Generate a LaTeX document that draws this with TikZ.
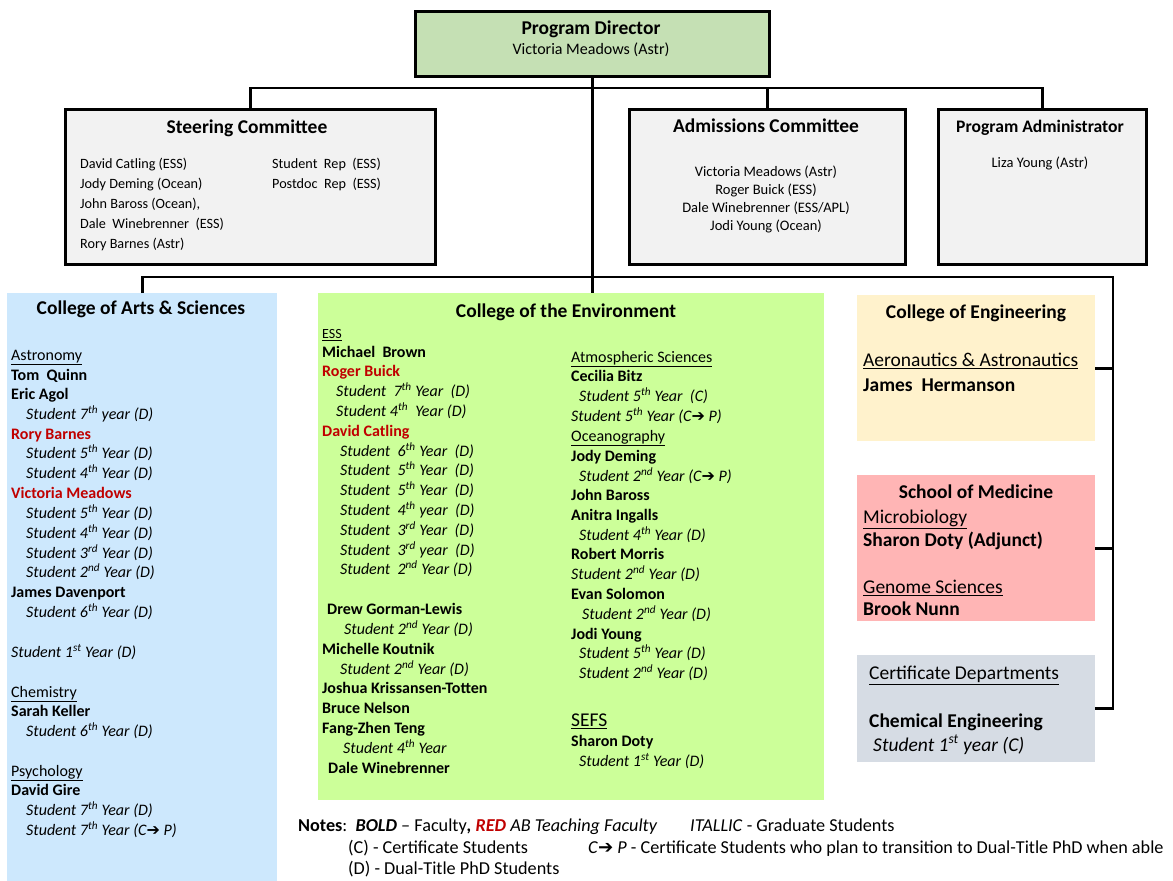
\documentclass[tikz,border=0pt]{standalone}
\usepackage{fontspec}
\setmainfont{Carlito}
\newfontfamily\symf{DejaVu Sans}
\definecolor{pdgreen}{HTML}{C5E0B4}
\definecolor{boxgray}{HTML}{F2F2F2}
\definecolor{casblue}{HTML}{CDE8FD}
\definecolor{coegreen}{HTML}{CCFF99}
\definecolor{enggold}{HTML}{FFF2CC}
\definecolor{medpink}{HTML}{FFB5B5}
\definecolor{certgray}{HTML}{D6DCE4}
\definecolor{tred}{HTML}{C00000}
\newcommand\fsz[1]{\fontsize{#1}{#1}\selectfont}
\newcommand\arw{{\normalfont\symf ➔}}
\newcommand\sps[1]{\textsuperscript{#1}}
\newcounter{tlc}
\newcommand\tline[4][]{\stepcounter{tlc}\node[txt,#1] (t\arabic{tlc}) at (#2,{#3+5.5}) {#4};}
\tikzset{
  box/.style={draw=black, line width=3pt, fill=boxgray, inner sep=0pt, anchor=north west},
  cbox/.style={draw=none, inner sep=0pt, anchor=north west},
  txt/.style={inner sep=0pt, anchor=base west, font=\fsz{16}},
  ctr/.style={inner sep=0pt, anchor=base},
  wire/.style={line width=2.6pt},
  fac/.style={font=\fsz{16}\bfseries},
  redf/.style={font=\fsz{16}\bfseries, text=tred},
  stu/.style={font=\fsz{16}\itshape},
  head/.style={font=\fsz{19.5}\bfseries},
  big/.style={font=\fsz{19.5}},
  note/.style={font=\fsz{18.2}},
}
\begin{document}
\begin{tikzpicture}[x=1pt,y=-1pt]
\useasboundingbox (0,0) rectangle (1173,881);
% boxes
\node[box, fill=pdgreen, minimum width=354pt, minimum height=65pt] (pd) at (414,10) {};
\node[box, minimum width=370pt, minimum height=155pt] (sc) at (64,108) {};
\node[box, minimum width=276pt, minimum height=155pt] (ac) at (628,108) {};
\node[box, minimum width=208pt, minimum height=155pt] (pa) at (937,108) {};
\node[cbox, fill=casblue, minimum width=270pt, minimum height=590pt] (cas) at (7,293) {};
\node[cbox, fill=coegreen, minimum width=506pt, minimum height=507pt] (coe) at (318,293) {};
\node[cbox, fill=enggold, minimum width=238pt, minimum height=146pt] (eng) at (857,295) {};
\node[cbox, fill=medpink, minimum width=238pt, minimum height=146pt] (med) at (857,475) {};
\node[cbox, fill=certgray, minimum width=238pt, minimum height=107pt] (cert) at (857,655) {};
% connectors
\coordinate (busU) at (0,88);
\coordinate (busL) at (0,277);
\coordinate (rx) at (1113,0);
\draw[wire] (pd.south) -- (pd.south |- coe.north);
\draw[wire] (sc.north) -- (sc.north |- busU) -- (pa.north |- busU) -- (pa.north);
\draw[wire] (ac.north) -- (ac.north |- busU);
\draw[wire] (cas.north) -- (cas.north |- busL) -- (rx |- busL) -- (rx |- cert.east) -- (cert.east);
\draw[wire] (eng.east) -- (eng.east -| rx);
\draw[wire] (med.east) -- (med.east -| rx);
% top texts
\node[ctr, head] (pdt) at (591,34) {Program Director};
\node[ctr, font=\fsz{16}] (pdn) at (591,54) {Victoria Meadows (Astr)};
\node[ctr, head] (sct) at (247,133.5) {Steering Committee};
\tline[font=\fsz{14.2}]{80}{163}{David Catling (ESS)}
\tline[font=\fsz{14.2}]{80}{183}{Jody Deming (Ocean)}
\tline[font=\fsz{14.2}]{80}{203}{John Baross (Ocean),}
\tline[font=\fsz{14.2}]{80}{223}{Dale\ \ Winebrenner\ \ (ESS)}
\tline[font=\fsz{14.2}]{80}{243}{Rory Barnes (Astr)}
\tline[font=\fsz{14.2}]{272}{163}{Student\ \ Rep\ \ (ESS)}
\tline[font=\fsz{14.2}]{272}{183}{Postdoc\ \ Rep\ \ (ESS)}
\node[ctr, head] (act) at (766,132.5) {Admissions Committee};
\node[ctr, font=\fsz{14.5}] (ac1) at (766,176) {Victoria Meadows (Astr)};
\node[ctr, font=\fsz{14.5}] (ac2) at (766,194) {Roger Buick (ESS)};
\node[ctr, font=\fsz{14.5}] (ac3) at (766,212) {Dale Winebrenner (ESS/APL)};
\node[ctr, font=\fsz{14.5}] (ac4) at (766,230) {Jodi Young (Ocean)};
\node[ctr, font=\fsz{17.6}\bfseries] (pat) at (1040,132) {Program Administrator};
\node[ctr, font=\fsz{14.5}] (pan) at (1040,167) {Liza Young (Astr)};
% College of Arts & Sciences
\node[ctr, head] (cast) at (141,314.5) {College of Arts \& Sciences};
\tline{11}{355}{\underline{Astronomy}}
\tline[fac]{11}{375}{Tom\ \ Quinn}
\tline[fac]{11}{394}{Eric Agol}
\tline[stu]{26}{414}{Student 7\sps{th} year (D)}
\tline[redf]{11}{434}{Rory Barnes}
\tline[stu]{26}{453}{Student 5\sps{th} Year (D)}
\tline[stu]{26}{473}{Student 4\sps{th} Year (D)}
\tline[redf]{11}{493}{Victoria Meadows}
\tline[stu]{26}{513}{Student 5\sps{th} Year (D)}
\tline[stu]{26}{533}{Student 4\sps{th} Year (D)}
\tline[stu]{26}{553}{Student 3\sps{rd} Year (D)}
\tline[stu]{26}{572}{Student 2\sps{nd} Year (D)}
\tline[fac]{11}{592}{James Davenport}
\tline[stu]{26}{612}{Student 6\sps{th} Year (D)}
\tline[stu]{11}{652}{Student 1\sps{st} Year (D)}
\tline{11}{692}{\underline{Chemistry}}
\tline[fac]{11}{711}{Sarah Keller}
\tline[stu]{26}{731}{Student 6\sps{th} Year (D)}
\tline{11}{771}{\underline{Psychology}}
\tline[fac]{11}{790}{David Gire}
\tline[stu]{26}{810}{Student 7\sps{th} Year (D)}
\tline[stu]{26}{830}{Student 7\sps{th} Year (C\arw{} P)}
% College of the Environment
\node[ctr, head] (coet) at (566,317.5) {College of the Environment};
\tline[font=\fsz{14}]{322}{333}{\underline{ESS}}
\tline[fac]{322}{352}{Michael\ \ Brown}
\tline[redf]{322}{371}{Roger Buick}
\tline[stu]{336}{391}{Student\ \ 7\sps{th} Year\ \ (D)}
\tline[stu]{336}{411}{Student 4\sps{th}\ \ Year (D)}
\tline[redf]{322}{431}{David Catling}
\tline[stu]{340}{451}{Student\ \ 6\sps{th} Year\ \ (D)}
\tline[stu]{340}{470}{Student\ \ 5\sps{th} Year\ \ (D)}
\tline[stu]{340}{490}{Student\ \ 5\sps{th} Year\ \ (D)}
\tline[stu]{340}{510}{Student\ \ 4\sps{th} year\ \ (D)}
\tline[stu]{340}{530}{Student\ \ 3\sps{rd} Year\ \ (D)}
\tline[stu]{340}{550}{Student\ \ 3\sps{rd} year\ \ (D)}
\tline[stu]{340}{569}{Student\ \ 2\sps{nd} Year (D)}
\tline[fac]{327}{609}{Drew Gorman-Lewis}
\tline[stu]{344}{629}{Student 2\sps{nd} Year (D)}
\tline[fac]{322}{649}{Michelle Koutnik}
\tline[stu]{340}{669}{Student 2\sps{nd} Year (D)}
\tline[fac]{322}{688}{Joshua Krissansen-Totten}
\tline[fac]{322}{708}{Bruce Nelson}
\tline[fac]{322}{728}{Fang-Zhen Teng}
\tline[stu]{343}{748}{Student 4\sps{th} Year}
\tline[fac]{328}{768}{Dale Winebrenner}
\tline{571}{357}{\underline{Atmospheric Sciences}}
\tline[fac]{571}{376}{Cecilia Bitz}
\tline[stu]{579}{396}{Student 5\sps{th} Year\ \ (C)}
\tline[stu]{571}{416}{Student 5\sps{th} Year (C\arw{} P)}
\tline{571}{436}{\underline{Oceanography}}
\tline[fac]{571}{456}{Jody Deming}
\tline[stu]{579}{476}{Student 2\sps{nd} Year (C\arw{} P)}
\tline[fac]{571}{495}{John Baross}
\tline[fac]{571}{515}{Anitra Ingalls}
\tline[stu]{579}{535}{Student 4\sps{th} Year (D)}
\tline[fac]{571}{554}{Robert Morris}
\tline[stu]{571}{574}{Student 2\sps{nd} Year (D)}
\tline[fac]{571}{594}{Evan Solomon}
\tline[stu]{582}{614}{Student 2\sps{nd} Year (D)}
\tline[fac]{571}{634}{Jodi Young}
\tline[stu]{579}{653}{Student 5\sps{th} Year (D)}
\tline[stu]{579}{673}{Student 2\sps{nd} Year (D)}
\tline[big]{571}{721}{\underline{SEFS}}
\tline[fac]{571}{741}{Sharon Doty}
\tline[stu]{579}{761}{Student 1\sps{st} Year (D)}
% right column
\node[ctr, head] (engt) at (976,318.5) {College of Engineering};
\tline[big]{863}{361}{\underline{Aeronautics \& Astronautics}}
\tline[head]{863}{386}{James\ \ Hermanson}
\node[ctr, head] (medt) at (976,498.5) {School of Medicine};
\tline[big]{863}{518}{\underline{Microbiology}}
\tline[head]{863}{541}{Sharon Doty (Adjunct)}
\tline[big]{863}{588}{\underline{Genome Sciences}}
\tline[head]{863}{610}{Brook Nunn}
\tline[big]{869}{674}{\underline{Certificate Departments}}
\tline[head]{869}{722}{Chemical Engineering}
\tline[font=\fsz{19.5}\itshape]{873}{746}{Student 1\sps{st} year (C)}
% notes
\tline[note]{298}{826}{\textbf{Notes}:\ \ \textbf{\textit{BOLD}} – Faculty\textbf{\textit{,}} \textbf{\textit{\color{tred}RED}} \textit{AB Teaching Faculty}}
\tline[note]{690}{826}{\textit{ITALLIC} - Graduate Students}
\tline[note]{348}{848}{(C) - Certificate Students}
\tline[note]{588}{848}{\textit{C}\arw{} \textit{P} - Certificate Students who plan to transition to Dual-Title PhD when able}
\tline[note]{348}{869}{(D) - Dual-Title PhD Students}
\end{tikzpicture}
\end{document}
